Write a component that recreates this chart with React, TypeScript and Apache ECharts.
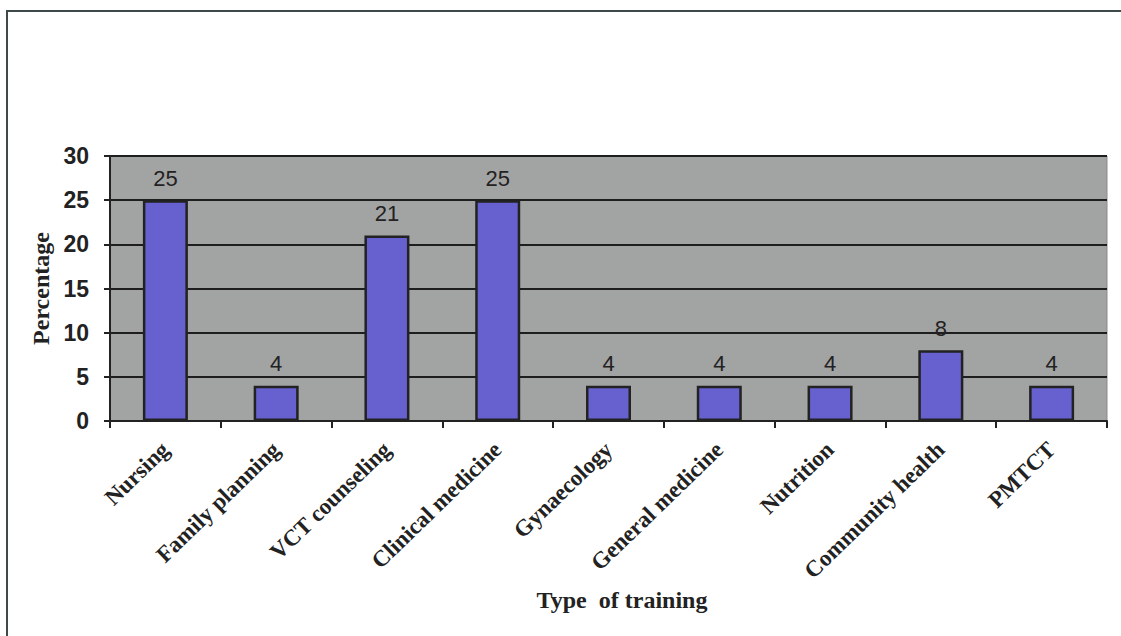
import React, { useEffect, useRef } from "react";
import * as echarts from "echarts";

const categories = [
  "Nursing",
  "Family planning",
  "VCT counseling",
  "Clinical medicine",
  "Gynaecology",
  "General medicine",
  "Nutrition",
  "Community health",
  "PMTCT",
];
const percentages = [25, 4, 21, 25, 4, 4, 4, 8, 4];
const yTicks = { min: 0, max: 30, interval: 5 };

export default function App() {
  const ref = useRef<HTMLDivElement>(null);
  useEffect(() => {
    if (!ref.current) return;
    const chart = echarts.init(ref.current, undefined, { renderer: "svg" });
    chart.setOption({
      animation: false,
      backgroundColor: "#ffffff",
      graphic: [
        {
          type: "rect",
          shape: { x: 7, y: 11, width: 1200, height: 700 },
          style: { fill: "none", stroke: "#3e4a4a", lineWidth: 2 },
          z: -1,
        },
        {
          type: "text",
          x: 622,
          y: 600,
          style: {
            text: "Type  of training",
            fontFamily: "Liberation Serif",
            fontWeight: "bold",
            fontSize: 24,
            fill: "#222",
            align: "center",
            verticalAlign: "middle",
          },
        },
      ],
      grid: {
        left: 110,
        right: 14,
        top: 156,
        bottom: 215,
        show: true,
        backgroundColor: "#a2a3a3",
        borderColor: "#8a8a8a",
        borderWidth: 1,
      },
      xAxis: {
        type: "category",
        data: categories,
        axisLine: { lineStyle: { color: "#222", width: 2 } },
        axisTick: { show: true, length: 7, lineStyle: { color: "#222", width: 2 } },
        axisLabel: {
          rotate: 44,
          interval: 0,
          margin: 25,
          fontFamily: "Liberation Serif",
          fontWeight: "bold",
          fontSize: 23,
          color: "#222",
        },
      },
      yAxis: {
        type: "value",
        min: yTicks.min,
        max: yTicks.max,
        interval: yTicks.interval,
        name: "Percentage",
        nameLocation: "middle",
        nameRotate: 90,
        nameGap: 50,
        nameTextStyle: {
          fontFamily: "Liberation Serif",
          fontWeight: "bold",
          fontSize: 24,
          color: "#222",
        },
        axisLine: { show: true, lineStyle: { color: "#222", width: 2 } },
        axisTick: { show: true, length: 6, lineStyle: { color: "#222", width: 2 } },
        axisLabel: {
          margin: 21,
          fontFamily: "Liberation Sans",
          fontWeight: "bold",
          fontSize: 23,
          color: "#222",
        },
        splitLine: { show: true, lineStyle: { color: "#1e1e1e", width: 2 } },
      },
      series: [
        {
          type: "bar",
          data: percentages,
          barWidth: 45,
          itemStyle: { color: "#6661cf", borderColor: "#222", borderWidth: 2.5 },
          label: {
            show: true,
            position: "top",
            distance: 11,
            fontFamily: "Liberation Sans",
            fontSize: 22,
            color: "#222",
          },
        },
      ],
    });
    return () => chart.dispose();
  }, []);
  return (
    <div
      ref={ref}
      style={{ position: "absolute", left: 0, top: 0, width: 1121, height: 636 }}
    />
  );
}
